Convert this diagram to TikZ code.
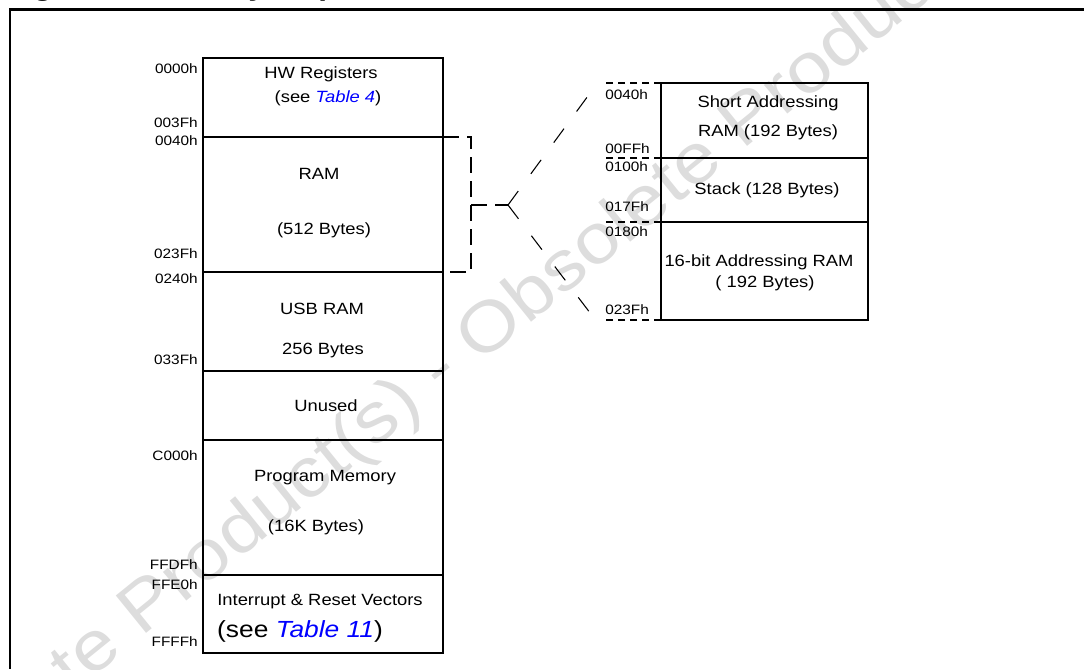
\documentclass[tikz,border=0pt]{standalone}
\usepackage{fontspec}
\setmainfont{Liberation Sans}[FakeStretch=1.13]
\usetikzlibrary{positioning}
\definecolor{wmgray}{RGB}{221,221,221}
\definecolor{tabblue}{RGB}{0,0,255}
\tikzset{
  membox/.style={draw, line width=1.4pt, inner sep=0pt, outer sep=0pt},
  mainbox/.style={membox, minimum width=180pt},
  ramsub/.style={membox, minimum width=155.25pt},
  boxtext/.style={inner sep=0pt, font=\fontsize{12.2}{14.6}\selectfont},
  bigtext/.style={inner sep=0pt, font=\fontsize{17.5}{21}\selectfont},
  addr/.style={inner sep=0pt, font=\fontsize{10.2}{12}\selectfont},
  bracket/.style={line width=1.4pt, dash pattern=on 12pt off 6pt},
  addrdash/.style={line width=1.2pt, dash pattern=on 5pt off 4pt},
  forkline/.style={line width=0.8pt, dash pattern=on 13pt off 16pt},
  frameline/.style={line width=2.2pt},
  watermark/.style={text=wmgray, inner sep=0pt, font=\fontsize{52.5}{58}\selectfont},
  figtitle/.style={inner sep=0pt, font=\fontsize{20.9}{24}\selectfont\bfseries}
}
\begin{document}
\begin{tikzpicture}[x=0.75pt, y=-0.75pt]
  \clip (0,0) rectangle (1084,669);

  % watermark
  \node[watermark, rotate=39] (wmark) at (441,372) {Obsolete Product(s) - Obsolete Product(s)};

  % title and frame
  \node[figtitle, anchor=base west] (title) at (5,-4.5) {Figure 6.\ Memory Map};
  \draw[frameline] (1084,9.5) -- (10,9.5) -- (10,669);

  % main memory column
  \node[mainbox, minimum height=59.25pt, anchor=north] (hwreg) at (323,58) {};
  \node[mainbox, minimum height=101.25pt, below=0pt of hwreg] (ram) {};
  \node[mainbox, minimum height=74.25pt, below=0pt of ram] (usbram) {};
  \node[mainbox, minimum height=51.75pt, below=0pt of usbram] (unused) {};
  \node[mainbox, minimum height=101.25pt, below=0pt of unused] (progmem) {};
  \node[mainbox, minimum height=58.5pt, below=0pt of progmem] (vectors) {};

  \node[boxtext] (hwname) at (321,74) {HW Registers};
  \node[boxtext] (hwsee) at (328,98) {(see \textcolor{tabblue}{\itshape Table 4})};
  \node[boxtext] (ramname) at (319,174) {RAM};
  \node[boxtext] (ramsize) at (324,230) {(512 Bytes)};
  \node[boxtext] (usbname) at (322,309) {USB RAM};
  \node[boxtext] (usbsize) at (323,350) {256 Bytes};
  \node[boxtext] (unusedname) at (326,406) {Unused};
  \node[boxtext] (progname) at (325,478) {Program Memory};
  \node[boxtext] (progsize) at (316,527) {(16K Bytes)};
  \node[boxtext] (vecname) at (320,602) {Interrupt \& Reset Vectors};
  \node[bigtext] (vecsee) at (300,631) {(see \textcolor{tabblue}{\itshape Table 11})};

  % addresses of the main column
  \node[addr, anchor=east] (a0000) at (198,69) {0000h};
  \node[addr, anchor=east] (a003f) at (198,123) {003Fh};
  \node[addr, anchor=east] (a0040) at (198,141) {0040h};
  \node[addr, anchor=east] (a023f) at (198,254) {023Fh};
  \node[addr, anchor=east] (a0240) at (198,279) {0240h};
  \node[addr, anchor=east] (a033f) at (198,360) {033Fh};
  \node[addr, anchor=east] (ac000) at (198,456) {C000h};
  \node[addr, anchor=east] (affdf) at (198,565) {FFDFh};
  \node[addr, anchor=east] (affe0) at (198,585) {FFE0h};
  \node[addr, anchor=east] (affff) at (198,642) {FFFFh};

  % RAM detail
  \node[ramsub, minimum height=56.25pt, anchor=north] (shortram) at (764.5,83) {};
  \node[ramsub, minimum height=48pt, below=0pt of shortram] (stack) {};
  \node[ramsub, minimum height=73.5pt, below=0pt of stack] (longram) {};

  \node[boxtext] (shortname) at (768,103) {Short Addressing};
  \node[boxtext] (shortsize) at (768,132) {RAM (192 Bytes)};
  \node[boxtext] (stackname) at (767,190) {Stack (128 Bytes)};
  \node[boxtext] (longname) at (759,262) {16-bit Addressing RAM};
  \node[boxtext] (longsize) at (765,283) {( 192 Bytes)};

  \node[addr, anchor=west] (b0040) at (605,95) {0040h};
  \node[addr, anchor=west] (b00ff) at (605,149) {00FFh};
  \node[addr, anchor=west] (b0100) at (605,167) {0100h};
  \node[addr, anchor=west] (b017f) at (605,207) {017Fh};
  \node[addr, anchor=west] (b0180) at (605,232) {0180h};
  \node[addr, anchor=west] (b023f) at (605,310) {023Fh};

  \draw[addrdash] (shortram.north west) -- ++(-56,0) coordinate (toptick);
  \draw[addrdash] (stack.north west) -- ++(-56,0);
  \draw[addrdash] (longram.north west) -- ++(-56,0);
  \draw[addrdash] (longram.south west) -- ++(-56,0) coordinate (bottick);

  % bracket and fork
  \draw[bracket] (ram.north east) -- ++(28,0) |- (ram.south east);
  \coordinate (brmid) at (471,205);
  \coordinate (fork) at (508,205);
  \draw[bracket] (brmid) -- (fork);
  \draw[forkline] (fork) -- ([shift={(-9,2)}]toptick);
  \draw[forkline] (fork) -- ([shift={(-8,2)}]bottick);
\end{tikzpicture}
\end{document}
